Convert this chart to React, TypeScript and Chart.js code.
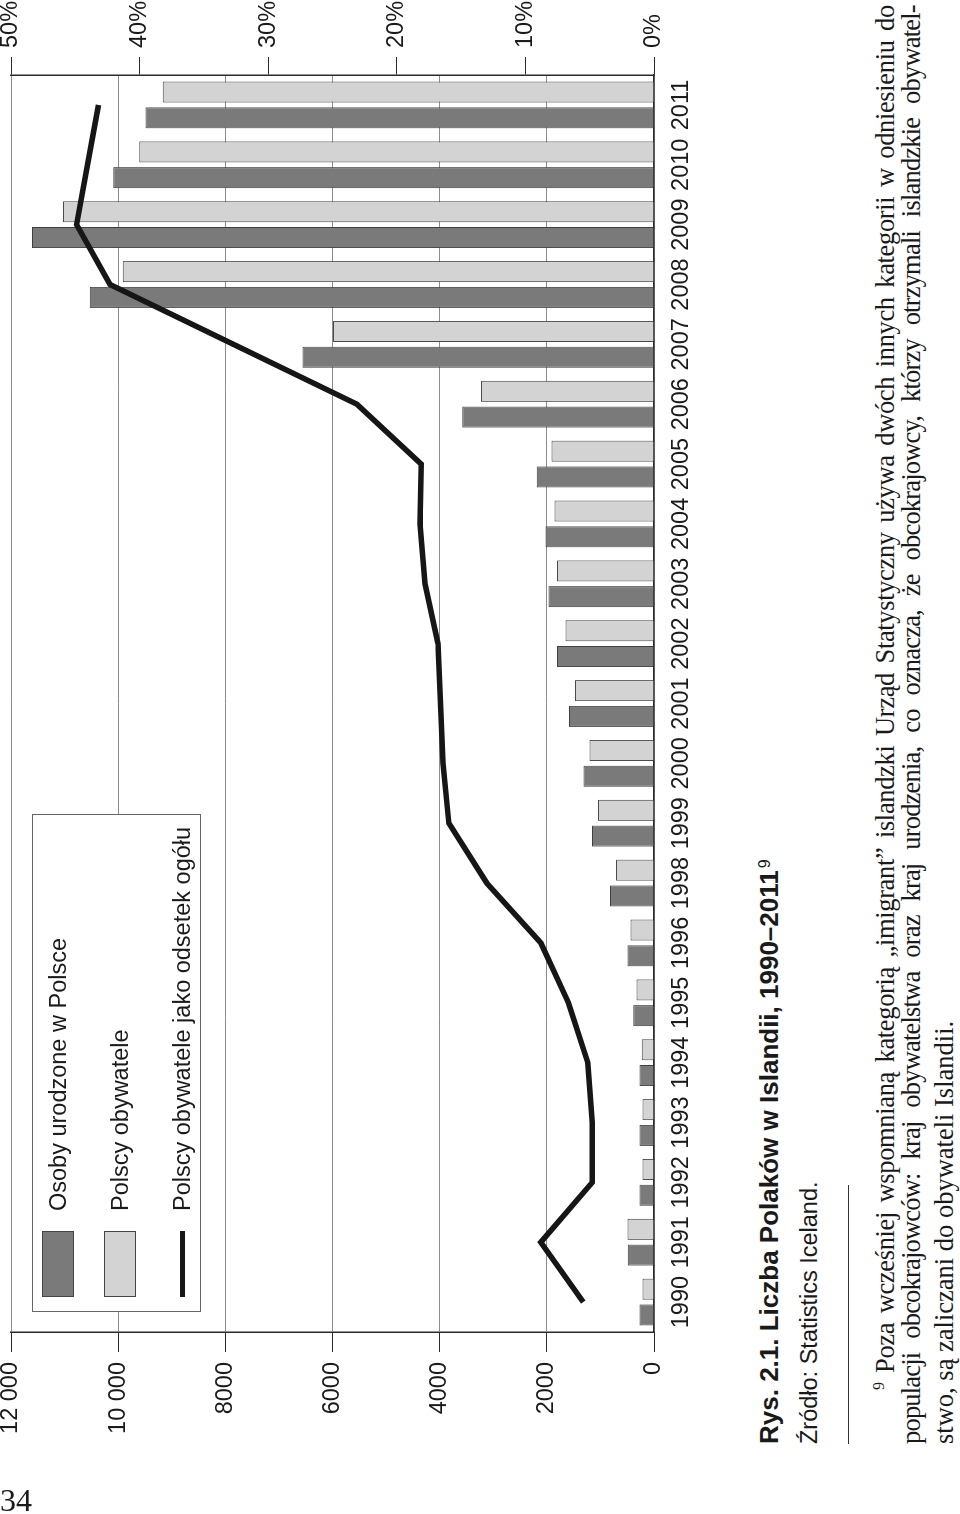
import React, { useEffect, useRef } from "react";
import { Chart, registerables } from "chart.js";

Chart.register(...registerables);

// ---- data ----
const years = ["1990", "1991", "1992", "1993", "1994", "1995", "1996", "1998", "1999", "2000", "2001", "2002", "2003", "2004", "2005", "2006", "2007", "2008", "2009", "2010", "2011"];
const bornInPoland = [270, 490, 270, 270, 270, 385, 495, 820, 1155, 1315, 1585, 1810, 1970, 2025, 2190, 3580, 6560, 10530, 11610, 10090, 9490];
const polishCitizens = [215, 495, 215, 215, 230, 325, 440, 710, 1045, 1205, 1475, 1650, 1810, 1855, 1915, 3230, 5990, 9915, 11030, 9605, 9170];
const sharePercent = [5.5, 8.8, 4.8, 4.8, 5.15, 6.65, 8.8, 13.0, 15.95, 16.4, 16.6, 16.8, 17.8, 18.2, 18.1, 23.1, 32.7, 42.3, 44.9, 44.05, 43.2];
const countTicks = [0, 2000, 4000, 6000, 8000, 10000, 12000];
const percentTicks = [0, 10, 20, 30, 40, 50];
const seriesLabels = ["Osoby urodzone w Polsce", "Polscy obywatele", "Polscy obywatele jako odsetek ogółu"];

const captionText = "Rys. 2.1. Liczba Polaków w Islandii, 1990–2011";
const sourceLabel = "Źródło";
const sourceText = ": Statistics Iceland.";
const footLine1 = "Poza wcześniej wspomnianą kategorią „imigrant” islandzki Urząd Statystyczny używa dwóch innych kategorii w odniesieniu do";
const footLine2 = "populacji obcokrajowców: kraj obywatelstwa oraz kraj urodzenia, co oznacza, że obcokrajowcy, którzy otrzymali islandzkie obywatel-";
const footLine3 = "stwo, są zaliczani do obywateli Islandii.";

const SANS = '"Liberation Sans", Arial, Helvetica, sans-serif';
const SERIF = '"Liberation Serif", "Times New Roman", serif';
const DARK = "#7a7a7a";
const LIGHT = "#d3d3d3";
const AXIS = "#2a2a2a";
const TEXT = "#1a1a1a";

function formatCount(v: number): string {
  const s = String(v);
  return v >= 10000 ? s.replace(/(\d)(?=(\d{3})+$)/g, "$1 ") : s;
}

function zeroPad(s: any) {
  s.paddingTop = 0;
  s.paddingBottom = 0;
  s.paddingLeft = 0;
  s.paddingRight = 0;
}

function ChartCanvas() {
  const ref = useRef<HTMLCanvasElement | null>(null);
  useEffect(() => {
    if (!ref.current) return;
    const font = { family: SANS, size: 23.5 };
    const chart = new Chart(ref.current, {
      data: {
        labels: years,
        datasets: [
          {
            type: "line",
            label: seriesLabels[2],
            data: sharePercent,
            yAxisID: "y1",
            borderColor: "#161616",
            borderWidth: 5.5,
            pointRadius: 0,
            tension: 0,
            fill: false,
            borderJoinStyle: "miter",
            order: 0,
          },
          {
            type: "bar",
            label: seriesLabels[0],
            data: bornInPoland,
            yAxisID: "y",
            backgroundColor: DARK,
            borderColor: "#404040",
            borderWidth: 1,
            barPercentage: 0.817,
            categoryPercentage: 0.861,
            order: 1,
          },
          {
            type: "bar",
            label: seriesLabels[1],
            data: polishCitizens,
            yAxisID: "y",
            backgroundColor: LIGHT,
            borderColor: "#4a4a4a",
            borderWidth: 1,
            barPercentage: 0.817,
            categoryPercentage: 0.861,
            order: 1,
          },
        ],
      } as any,
      options: {
        responsive: false,
        maintainAspectRatio: false,
        animation: false,
        events: [],
        layout: { padding: { top: 11, bottom: 10, left: 0, right: 0 } },
        plugins: { legend: { display: false }, tooltip: { enabled: false } },
        scales: {
          x: {
            type: "category",
            offset: true,
            grid: { drawOnChartArea: false, drawTicks: false },
            border: { display: true, color: AXIS, width: 1.5 },
            ticks: { color: TEXT, font, padding: 13, maxRotation: 0, autoSkip: false },
            afterFit: (s: any) => { s.height = 56; zeroPad(s); },
          },
          y: {
            position: "left",
            min: countTicks[0],
            max: countTicks[countTicks.length - 1],
            afterBuildTicks: (s: any) => { s.ticks = countTicks.map((v) => ({ value: v })); },
            ticks: { color: TEXT, font, padding: 10, callback: (v: any) => formatCount(Number(v)) },
            grid: { color: "#8c8c8c", lineWidth: 1, tickLength: 20, tickColor: AXIS },
            border: { display: true, color: AXIS, width: 1.5 },
            afterFit: (s: any) => { s.width = 182; zeroPad(s); },
          },
          y1: {
            position: "right",
            min: percentTicks[0],
            max: percentTicks[percentTicks.length - 1],
            afterBuildTicks: (s: any) => { s.ticks = percentTicks.map((v) => ({ value: v })); },
            ticks: { color: TEXT, font, padding: 9, callback: (v: any) => `${v}%` },
            grid: { drawOnChartArea: false, tickLength: 18, tickColor: AXIS },
            border: { display: true, color: AXIS, width: 1.5 },
            afterFit: (s: any) => { s.width = 75; zeroPad(s); },
          },
        },
      } as any,
    });
    return () => chart.destroy();
  }, []);
  return (
    <canvas
      ref={ref}
      width={1514}
      height={720}
      style={{ position: "absolute", left: 0, top: 0, width: 1514, height: 720 }}
    />
  );
}

function Legend() {
  const item = (top: number, swatch: React.ReactNode, text: string) => (
    <div style={{ position: "absolute", left: 0, top, width: 496, height: 32 }}>
      {swatch}
      <div
        style={{
          position: "absolute",
          left: 100,
          top: 0,
          height: 32,
          lineHeight: "32px",
          fontFamily: SANS,
          fontSize: 23.5,
          color: TEXT,
          whiteSpace: "nowrap",
        }}
      >
        {text}
      </div>
    </div>
  );
  const box = (bg: string): React.ReactNode => (
    <div style={{ position: "absolute", left: 14, top: 0, width: 64, height: 30, background: bg, border: "1px solid #444" }} />
  );
  return (
    <div
      style={{
        position: "absolute",
        left: 202,
        top: 32,
        width: 496,
        height: 167,
        background: "#fff",
        border: "1px solid #666",
      }}
    >
      {item(8.6, box(DARK), seriesLabels[0])}
      {item(70.6, box(LIGHT), seriesLabels[1])}
      {item(133.2, <div style={{ position: "absolute", left: 14, top: 13.5, width: 66, height: 5, background: "#161616" }} />, seriesLabels[2])}
    </div>
  );
}

// A justified single text line: words spread across a fixed width.
function JustifiedLine(props: { text: string; left: number; top: number; width: number; letterSpacing: number; lead?: React.ReactNode }) {
  const words = props.text.split(" ");
  return (
    <div
      style={{
        position: "absolute",
        left: props.left,
        top: props.top,
        width: props.width,
        display: "flex",
        flexWrap: "nowrap",
        justifyContent: "space-between",
        alignItems: "baseline",
        columnGap: 3,
        fontFamily: SERIF,
        fontSize: 26.5,
        lineHeight: "27px",
        letterSpacing: props.letterSpacing,
        color: TEXT,
        whiteSpace: "nowrap",
      }}
    >
      {words.map((w, i) => (
        <span key={i}>
          {i === 0 ? props.lead : null}
          {w}
        </span>
      ))}
    </div>
  );
}

export default function App() {
  return (
    <div style={{ position: "absolute", left: 0, top: 0, width: 960, height: 1514, overflow: "hidden", background: "#fff" }}>
      <div
        style={{
          position: "absolute",
          left: 0,
          top: 0,
          width: 1514,
          height: 960,
          transformOrigin: "0 0",
          transform: "translateY(1514px) rotate(-90deg)",
        }}
      >
        <ChartCanvas />
        <Legend />
        <div
          style={{
            position: "absolute",
            left: 70,
            top: 751,
            fontFamily: SANS,
            fontWeight: "bold",
            fontSize: 26,
            lineHeight: "28px",
            color: TEXT,
            whiteSpace: "nowrap",
          }}
        >
          {captionText}
          <span style={{ fontWeight: "normal", fontSize: 16, verticalAlign: "8px", marginLeft: 2 }}>9</span>
        </div>
        <div
          style={{
            position: "absolute",
            left: 70,
            top: 796,
            fontFamily: SANS,
            fontSize: 23.5,
            lineHeight: "26px",
            color: TEXT,
            whiteSpace: "nowrap",
          }}
        >
          <span>{sourceLabel}</span>
          {sourceText}
        </div>
        <div style={{ position: "absolute", left: 70, top: 848, width: 259, height: 1, background: "#333" }} />
        <JustifiedLine
          text={footLine1}
          left={124}
          top={865}
          width={1385}
          letterSpacing={-0.35}
          lead={<span style={{ fontSize: 16, verticalAlign: "10px", marginRight: 9, letterSpacing: 0 }}>9</span>}
        />
        <JustifiedLine text={footLine2} left={70} top={898} width={1439} letterSpacing={-0.8} />
        <div
          style={{
            position: "absolute",
            left: 70,
            top: 931,
            fontFamily: SERIF,
            fontSize: 26.5,
            lineHeight: "27px",
            letterSpacing: 0,
            color: TEXT,
            whiteSpace: "nowrap",
          }}
        >
          {footLine3}
        </div>
      </div>
      <div
        style={{
          position: "absolute",
          left: 0,
          top: 1484,
          fontFamily: SERIF,
          fontSize: 32,
          lineHeight: "32px",
          color: TEXT,
        }}
      >
        34
      </div>
    </div>
  );
}
